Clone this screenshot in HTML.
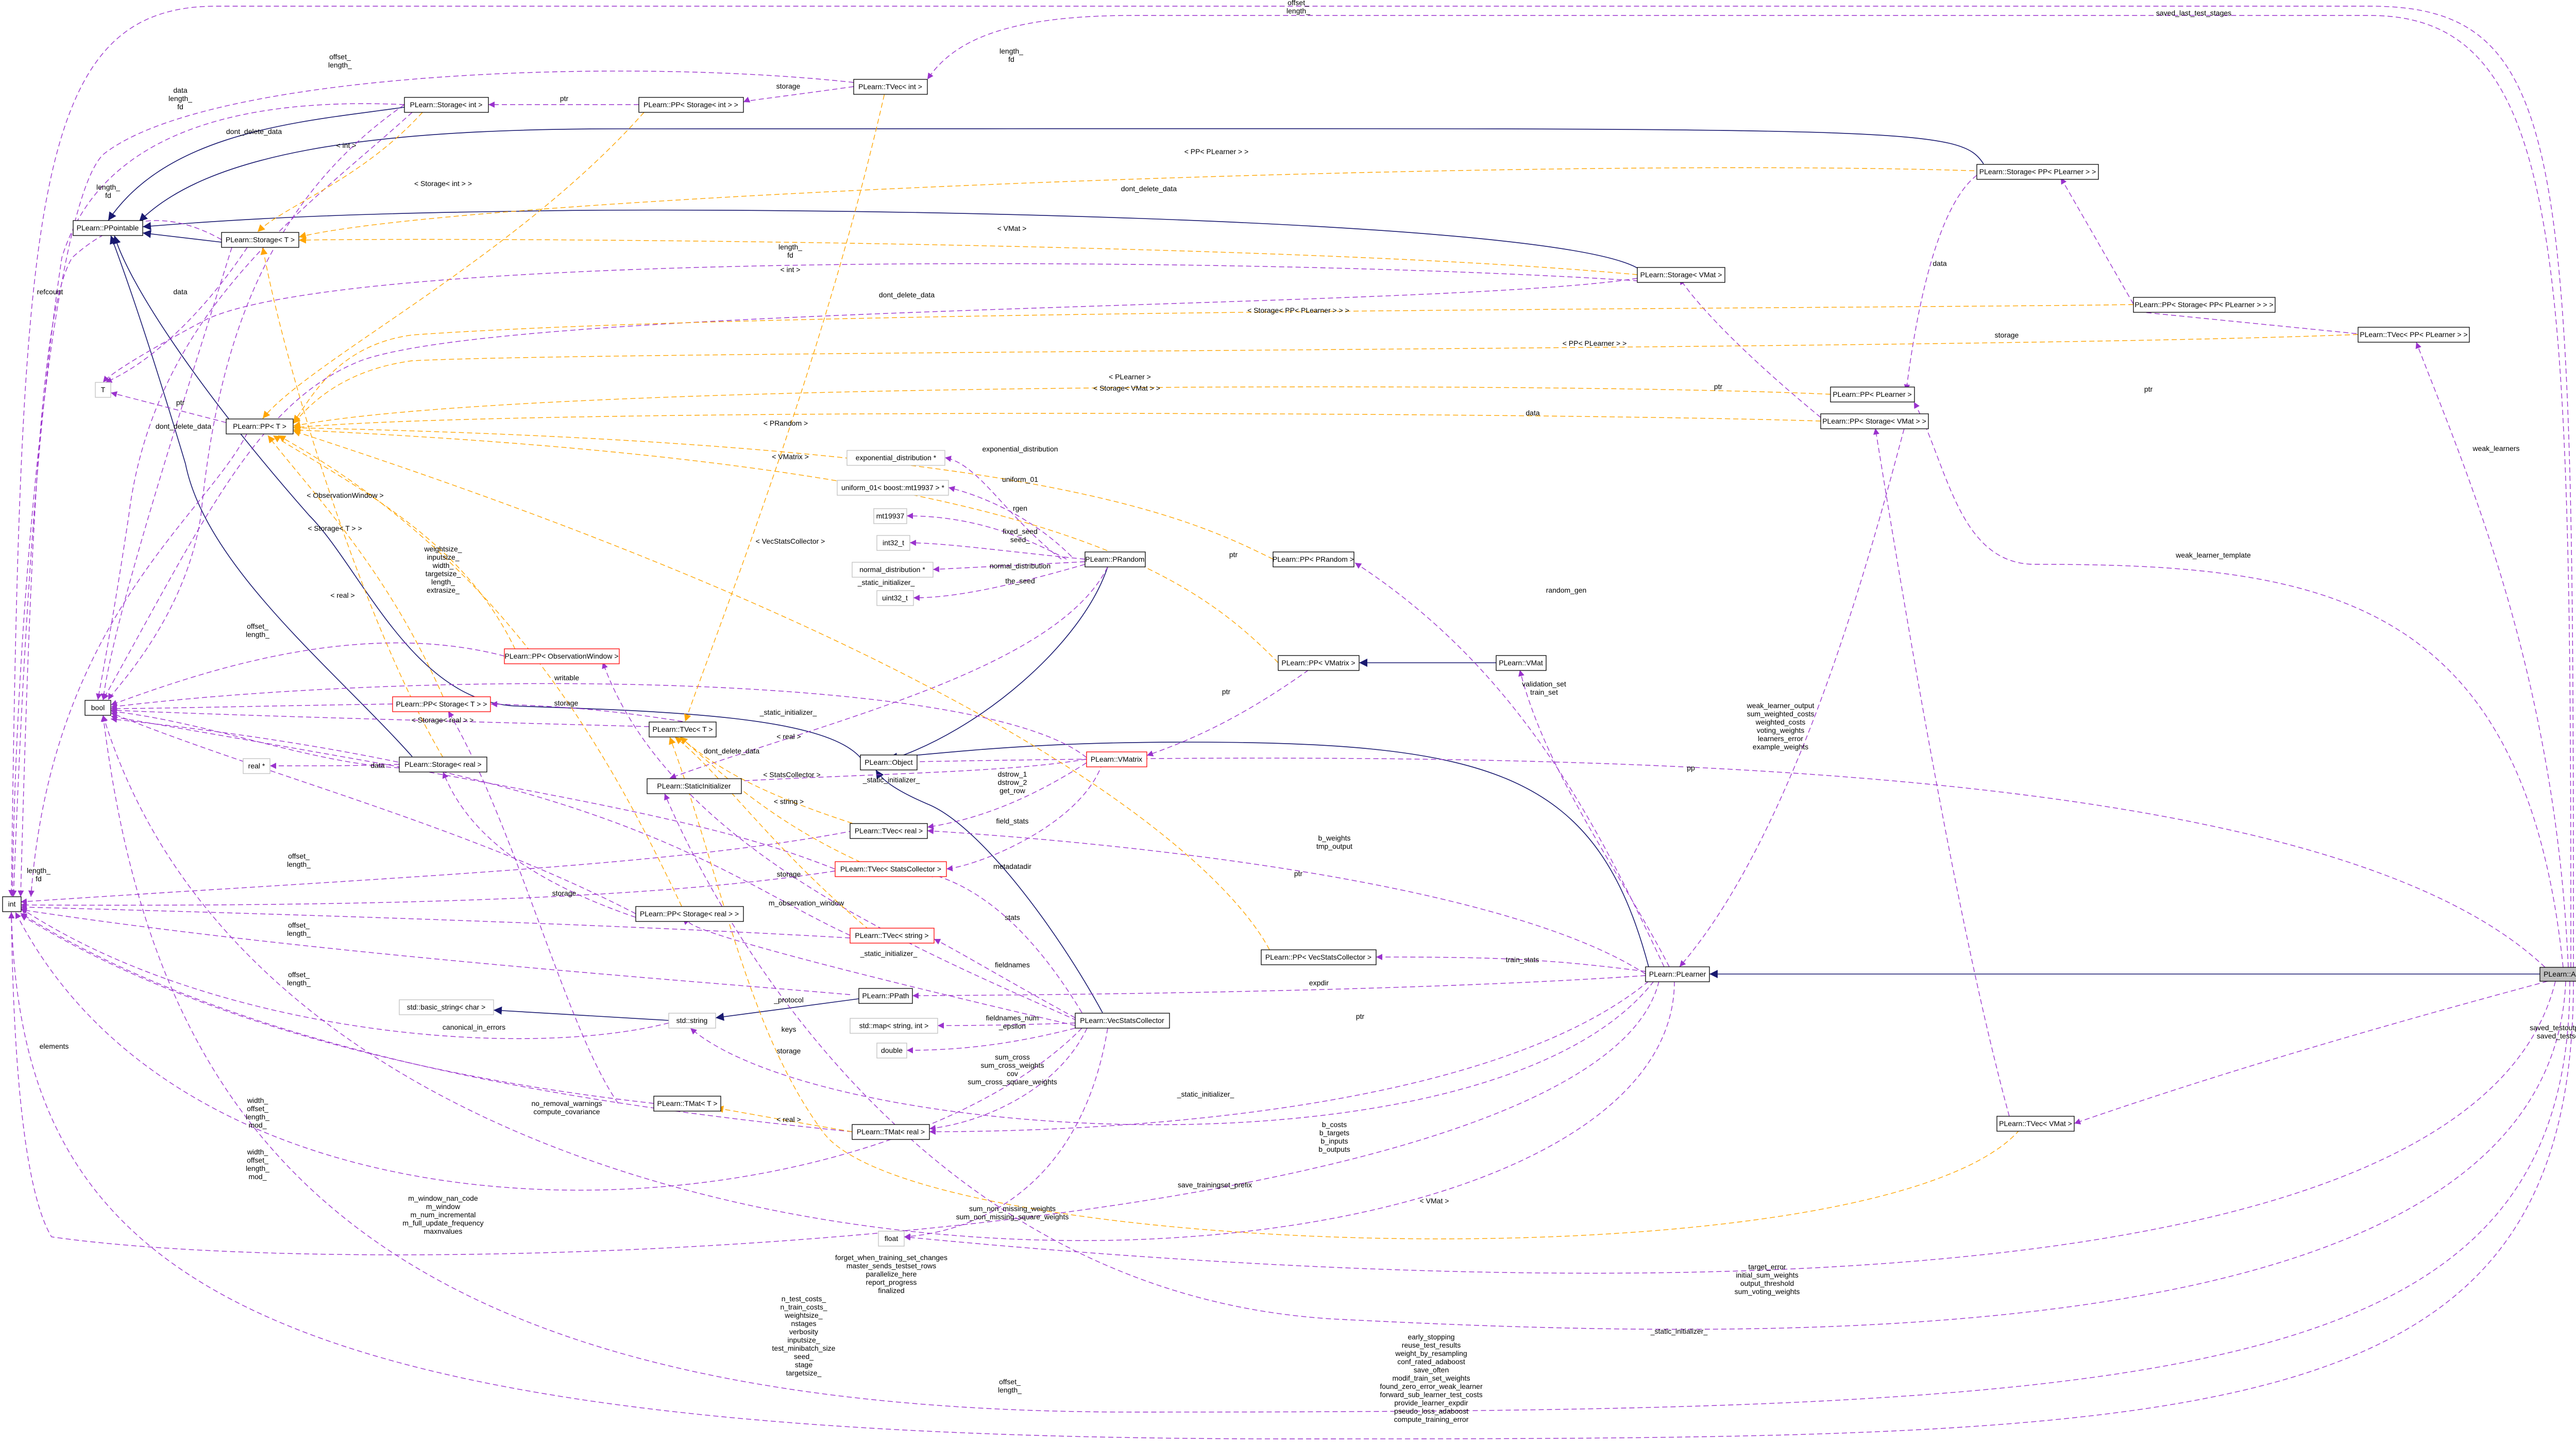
<!DOCTYPE html>
<html><head><meta charset="utf-8"><style>
html,body{margin:0;padding:0;background:#fff}
svg{display:block}
text{font-family:"Liberation Sans",sans-serif;font-size:14px;fill:#000}
.n rect{fill:#fff;stroke:#000;stroke-width:1.3}
.g rect{stroke:#bfbfbf}
.r rect{stroke:#f00}
.p{fill:none;stroke:#9a32cd;stroke-width:1.4;stroke-dasharray:10,6}
.o{fill:none;stroke:#ffa500;stroke-width:1.4;stroke-dasharray:10,6}
.s{fill:none;stroke:#191970;stroke-width:1.6}
</style></head><body>
<svg width="5064" height="2800" viewBox="0 0 5064 2800" xmlns="http://www.w3.org/2000/svg">
<defs>
<marker id="mp" viewBox="0 0 10 10" refX="10" refY="5" markerWidth="12" markerHeight="12" markerUnits="userSpaceOnUse" orient="auto"><path d="M0,0L10,5L0,10z" fill="#9a32cd"/></marker>
<marker id="mo" viewBox="0 0 10 10" refX="10" refY="5" markerWidth="14" markerHeight="14" markerUnits="userSpaceOnUse" orient="auto"><path d="M0,0L10,5L0,10z" fill="#ffa500"/></marker>
<marker id="ms" viewBox="0 0 10 10" refX="10" refY="5" markerWidth="16" markerHeight="16" markerUnits="userSpaceOnUse" orient="auto"><path d="M0,0L10,5L0,10z" fill="#191970"/></marker>
</defs>

<!-- solid inheritance -->
<g class="s" marker-end="url(#ms)">
<path d="M785,208 C600,235 330,250 210,428"/>
<path d="M3850,318 C3800,240 3700,250 1200,250 C700,250 400,300 270,430"/>
<path d="M3178,520 C3000,420 1500,400 1000,410 C600,415 400,430 277,440"/>
<path d="M430,470 L277,452"/>
<path d="M800,1468 C650,1300 400,1100 360,900 C300,700 250,550 215,457"/>
<path d="M1670,1470 C1600,1390 1300,1380 1000,1370 C800,1360 700,1100 600,1000 C380,750 250,550 222,457"/>
<path d="M2150,1100 C2100,1250 1900,1420 1725,1475"/>
<path d="M3200,1876 C3100,1500 2900,1440 2300,1440 C2000,1440 1850,1460 1725,1470"/>
<path d="M2140,1965 C2050,1800 1900,1600 1800,1560 C1730,1530 1710,1510 1700,1494"/>
<path d="M2904,1286 L2638,1286"/>
<path d="M4930,1890 L3318,1890"/>
<path d="M1667,1938 L1389,1975"/>
<path d="M1298,1980 L958,1960"/>
</g>

<!-- purple usage edges -->
<g class="p" marker-end="url(#mp)">
<path d="M4995,1877 C4995,300 4990,12 4600,12 L420,12 C60,12 40,400 22,1739"/>
<path d="M4990,1877 C4990,500 4980,30 4600,30 L2200,30 C1950,30 1850,80 1800,154"/>
<path d="M4985,1877 C4960,1300 4780,900 4690,664"/>
<path d="M4975,1877 C4900,1150 4500,1095 3950,1095 C3800,1095 3780,900 3715,780"/>
<path d="M4940,1877 C4500,1460 3000,1455 1725,1479"/>
<path d="M4945,1904 Q4400,2050 4026,2180"/>
<path d="M4960,1904 C4800,2560 3000,2520 1755,2400"/>
<path d="M4980,1904 C4950,2650 3400,2600 2600,2560 C1800,2520 1400,1800 1290,1540"/>
<path d="M4988,1904 C4988,2700 4200,2740 2200,2740 C700,2740 300,2200 200,1388"/>
<path d="M4995,1904 C4995,2790 4300,2792 2500,2792 C500,2792 40,2500 22,1770"/>
<path d="M4590,649 L4160,606 M4141,591"/>
<path d="M4141,590 L4000,345"/>
<path d="M3837,340 C3760,400 3720,600 3700,758"/>
<path d="M3534,810 C3400,700 3300,600 3260,540"/>
<path d="M3700,817 C3650,1000 3500,1600 3260,1876"/>
<path d="M3900,2166 C3800,1800 3700,1200 3640,831"/>
<path d="M3230,1876 C3100,1600 2950,1300 2630,1092"/>
<path d="M3240,1876 C3150,1700 3000,1500 2950,1300"/>
<path d="M3194,1890 C2900,1700 2100,1630 1800,1612"/>
<path d="M3194,1885 C3000,1860 2900,1857 2671,1857"/>
<path d="M3194,1893 C2800,1920 2200,1930 1771,1932"/>
<path d="M3200,1904 C2900,2150 2200,2196 1804,2196"/>
<path d="M3210,1904 C2900,2300 1600,2220 1340,1995"/>
<path d="M3220,1904 C3100,2400 800,2500 100,2400 C40,2300 25,2000 22,1770"/>
<path d="M3250,1904 C3250,2600 600,2700 200,1388"/>
<path d="M3178,540 C2800,600 1000,590 700,700 C500,780 400,1000 200,1358"/>
<path d="M3180,545 C2500,500 700,480 400,620 C250,700 210,730 200,742"/>
<path d="M1240,203 L948,203"/>
<path d="M1657,168 C1500,190 1450,195 1443,198"/>
<path d="M1657,160 C1200,110 400,140 200,300 C100,400 30,1200 24,1740"/>
<path d="M785,203 C500,190 200,240 120,500 C60,900 40,1400 26,1740"/>
<path d="M800,218 C600,400 300,600 250,1000 C220,1200 200,1300 190,1358"/>
<path d="M785,203 C500,400 420,700 390,1000 C360,1200 220,1340 210,1358"/>
<path d="M430,465 C350,420 250,400 140,500 C80,600 60,1000 40,1740"/>
<path d="M480,480 C400,600 300,700 205,742"/>
<path d="M450,480 C350,800 220,1200 200,1358"/>
<path d="M439,820 L215,762"/>
<path d="M480,840 C400,1000 100,1200 60,1740"/>
<path d="M2060,1085 C1950,1000 1900,900 1834,888"/>
<path d="M2080,1080 C2000,1000 1900,960 1841,946"/>
<path d="M2070,1085 C1950,1020 1850,1001 1760,1001"/>
<path d="M2106,1085 C1950,1070 1850,1055 1766,1053"/>
<path d="M2106,1090 L1811,1105"/>
<path d="M2106,1095 C1950,1140 1850,1160 1773,1160"/>
<path d="M2150,1100 C2050,1300 1600,1400 1300,1510"/>
<path d="M2109,1470 C1900,1300 800,1300 215,1372"/>
<path d="M2109,1473 C1950,1500 1700,1500 1350,1520"/>
<path d="M2540,1300 C2400,1400 2300,1440 2226,1466"/>
<path d="M2109,1480 C2000,1550 1900,1590 1800,1605"/>
<path d="M2140,1480 C2100,1600 1900,1680 1837,1686"/>
<path d="M2100,1965 C2000,1800 1900,1720 1800,1694"/>
<path d="M2087,1975 C1950,1900 1850,1840 1813,1822"/>
<path d="M2087,1985 C1950,1990 1850,1990 1820,1990"/>
<path d="M2087,1995 C1950,2030 1850,2038 1760,2038"/>
<path d="M2110,1995 C2050,2120 1900,2180 1804,2190"/>
<path d="M2150,1995 C2100,2300 1900,2390 1755,2400"/>
<path d="M2087,1990 C1700,1900 1300,1800 1339,1785"/>
<path d="M2090,1980 C1800,1850 1300,1650 1170,1285"/>
<path d="M2100,1995 C1700,2400 400,2500 30,1770"/>
<path d="M1657,1612 C1300,1680 800,1700 40,1750"/>
<path d="M1621,1690 C1300,1740 800,1760 40,1756"/>
<path d="M1650,1820 C1300,1800 800,1780 40,1760"/>
<path d="M1650,1930 C1300,1900 600,1850 40,1765"/>
<path d="M1654,2196 C1200,2150 500,2060 40,1772"/>
<path d="M1269,2141 C900,2100 400,2000 40,1775"/>
<path d="M1234,1773 C900,1600 500,1500 215,1383"/>
<path d="M1234,1780 C1000,1700 900,1600 860,1498"/>
<path d="M1325,1400 C1200,1380 1100,1370 953,1366"/>
<path d="M1260,1410 C900,1400 500,1390 215,1378"/>
<path d="M1298,1985 C1000,2060 400,2000 40,1762"/>
<path d="M775,1483 C700,1486 650,1486 524,1486"/>
<path d="M775,1490 C600,1480 400,1400 215,1380"/>
<path d="M1200,2141 C1100,2000 1000,1600 870,1380"/>
<path d="M762,1366 C500,1370 300,1375 215,1375"/>
<path d="M979,1273 C700,1200 400,1300 215,1368"/>
<path d="M1620,1686 C1400,1600 1200,1560 215,1390"/>
<path d="M1650,1815 C1400,1700 1200,1500 215,1395"/>
</g>

<!-- orange template edges -->
<g class="o" marker-end="url(#mo)">
<path d="M4141,591 C3500,600 1500,600 800,650 C650,670 600,780 569,820"/>
<path d="M4577,649 C3800,680 1200,680 800,700 C650,720 590,800 569,822"/>
<path d="M3553,765 C3000,740 1000,740 569,827"/>
<path d="M3534,817 C3000,800 1000,790 569,830"/>
<path d="M2471,1085 C2300,1000 2000,860 569,830"/>
<path d="M2481,1286 C2300,1100 2000,900 569,834"/>
<path d="M2471,1857 C2400,1700 2000,1300 569,836"/>
<path d="M1000,1260 C900,1050 700,950 530,845"/>
<path d="M860,1352 C750,1100 600,950 520,845"/>
<path d="M1250,218 C1000,500 600,700 510,812"/>
<path d="M1330,1773 C1200,1500 1000,1100 540,845"/>
<path d="M3880,333 C3000,300 900,380 580,460"/>
<path d="M820,218 C700,350 550,400 500,450"/>
<path d="M3178,533 C2500,470 900,460 580,466"/>
<path d="M860,1470 C700,1200 550,700 510,480"/>
<path d="M1720,168 C1600,700 1400,1200 1330,1400"/>
<path d="M1700,1612 C1500,1550 1400,1500 1320,1430"/>
<path d="M1700,1686 C1500,1600 1400,1500 1320,1430"/>
<path d="M1700,1815 C1500,1650 1400,1500 1310,1430"/>
<path d="M3930,2180 C3700,2500 1800,2450 1600,2200 C1450,2000 1400,1700 1300,1430"/>
<path d="M1654,2196 C1500,2170 1450,2160 1390,2150"/>
</g>

<!-- nodes -->
<g class="n">
<rect x="1657" y="154" width="143" height="29"/><text x="1728" y="173" text-anchor="middle">PLearn::TVec&lt; int &gt;</text>
<rect x="785" y="189" width="163" height="29"/><text x="866" y="208" text-anchor="middle">PLearn::Storage&lt; int &gt;</text>
<rect x="1240" y="189" width="203" height="29"/><text x="1341" y="208" text-anchor="middle">PLearn::PP&lt; Storage&lt; int &gt; &gt;</text>
<rect x="142" y="428" width="135" height="29"/><text x="209" y="447" text-anchor="middle">PLearn::PPointable</text>
<rect x="430" y="451" width="150" height="29"/><text x="505" y="470" text-anchor="middle">PLearn::Storage&lt; T &gt;</text>
<rect x="3837" y="319" width="236" height="29"/><text x="3955" y="338" text-anchor="middle">PLearn::Storage&lt; PP&lt; PLearner &gt; &gt;</text>
<rect x="3178" y="519" width="170" height="29"/><text x="3263" y="538" text-anchor="middle">PLearn::Storage&lt; VMat &gt;</text>
<rect x="4141" y="577" width="275" height="29"/><text x="4278" y="596" text-anchor="middle">PLearn::PP&lt; Storage&lt; PP&lt; PLearner &gt; &gt; &gt;</text>
<rect x="4577" y="635" width="216" height="29"/><text x="4685" y="654" text-anchor="middle">PLearn::TVec&lt; PP&lt; PLearner &gt; &gt;</text>
<rect x="439" y="813" width="130" height="29"/><text x="504" y="832" text-anchor="middle">PLearn::PP&lt; T &gt;</text>
<rect x="3553" y="751" width="163" height="29"/><text x="3634" y="770" text-anchor="middle">PLearn::PP&lt; PLearner &gt;</text>
<rect x="3534" y="803" width="209" height="29"/><text x="3638" y="822" text-anchor="middle">PLearn::PP&lt; Storage&lt; VMat &gt; &gt;</text>
<rect x="2106" y="1071" width="117" height="29"/><text x="2164" y="1090" text-anchor="middle">PLearn::PRandom</text>
<rect x="2471" y="1071" width="157" height="29"/><text x="2549" y="1090" text-anchor="middle">PLearn::PP&lt; PRandom &gt;</text>
<rect x="2481" y="1272" width="157" height="29"/><text x="2559" y="1291" text-anchor="middle">PLearn::PP&lt; VMatrix &gt;</text>
<rect x="2904" y="1272" width="97" height="29"/><text x="2952" y="1291" text-anchor="middle">PLearn::VMat</text>
<rect x="165" y="1359" width="50" height="29"/><text x="190" y="1378" text-anchor="middle">bool</text>
<rect x="1260" y="1401" width="130" height="29"/><text x="1325" y="1420" text-anchor="middle">PLearn::TVec&lt; T &gt;</text>
<rect x="1670" y="1465" width="110" height="29"/><text x="1725" y="1484" text-anchor="middle">PLearn::Object</text>
<rect x="775" y="1469" width="170" height="29"/><text x="860" y="1488" text-anchor="middle">PLearn::Storage&lt; real &gt;</text>
<rect x="1256" y="1511" width="183" height="29"/><text x="1347" y="1530" text-anchor="middle">PLearn::StaticInitializer</text>
<rect x="1650" y="1598" width="150" height="29"/><text x="1725" y="1617" text-anchor="middle">PLearn::TVec&lt; real &gt;</text>
<rect x="5" y="1740" width="36" height="29"/><text x="23" y="1759" text-anchor="middle">int</text>
<rect x="1234" y="1759" width="209" height="29"/><text x="1338" y="1778" text-anchor="middle">PLearn::PP&lt; Storage&lt; real &gt; &gt;</text>
<rect x="2448" y="1843" width="223" height="29"/><text x="2559" y="1862" text-anchor="middle">PLearn::PP&lt; VecStatsCollector &gt;</text>
<rect x="3194" y="1876" width="124" height="29"/><text x="3256" y="1895" text-anchor="middle">PLearn::PLearner</text>
<rect x="4930" y="1877" width="129" height="27" style="fill:#bfbfbf"/><text x="4994" y="1895" text-anchor="middle">PLearn::AdaBoost</text>
<rect x="1667" y="1918" width="104" height="29"/><text x="1719" y="1937" text-anchor="middle">PLearn::PPath</text>
<rect x="2087" y="1966" width="183" height="29"/><text x="2178" y="1985" text-anchor="middle">PLearn::VecStatsCollector</text>
<rect x="1269" y="2127" width="130" height="29"/><text x="1334" y="2146" text-anchor="middle">PLearn::TMat&lt; T &gt;</text>
<rect x="3876" y="2166" width="150" height="29"/><text x="3951" y="2185" text-anchor="middle">PLearn::TVec&lt; VMat &gt;</text>
<rect x="1654" y="2182" width="150" height="29"/><text x="1729" y="2201" text-anchor="middle">PLearn::TMat&lt; real &gt;</text>
</g>
<g class="n r">
<rect x="979" y="1259" width="223" height="29"/><text x="1090" y="1278" text-anchor="middle">PLearn::PP&lt; ObservationWindow &gt;</text>
<rect x="762" y="1352" width="190" height="29"/><text x="857" y="1371" text-anchor="middle">PLearn::PP&lt; Storage&lt; T &gt; &gt;</text>
<rect x="2109" y="1459" width="117" height="29"/><text x="2167" y="1478" text-anchor="middle">PLearn::VMatrix</text>
<rect x="1621" y="1672" width="216" height="29"/><text x="1729" y="1691" text-anchor="middle">PLearn::TVec&lt; StatsCollector &gt;</text>
<rect x="1650" y="1801" width="163" height="29"/><text x="1731" y="1820" text-anchor="middle">PLearn::TVec&lt; string &gt;</text>
</g>
<g class="n g">
<rect x="185" y="742" width="30" height="29"/><text x="200" y="761" text-anchor="middle">T</text>
<rect x="1644" y="874" width="190" height="29"/><text x="1739" y="893" text-anchor="middle">exponential_distribution *</text>
<rect x="1625" y="932" width="216" height="29"/><text x="1733" y="951" text-anchor="middle">uniform_01&lt; boost::mt19937 &gt; *</text>
<rect x="1696" y="987" width="64" height="29"/><text x="1728" y="1006" text-anchor="middle">mt19937</text>
<rect x="1702" y="1039" width="64" height="29"/><text x="1734" y="1058" text-anchor="middle">int32_t</text>
<rect x="1654" y="1091" width="157" height="29"/><text x="1732" y="1110" text-anchor="middle">normal_distribution *</text>
<rect x="1702" y="1146" width="71" height="29"/><text x="1737" y="1165" text-anchor="middle">uint32_t</text>
<rect x="472" y="1472" width="52" height="29"/><text x="498" y="1491" text-anchor="middle">real *</text>
<rect x="775" y="1940" width="183" height="29"/><text x="866" y="1959" text-anchor="middle">std::basic_string&lt; char &gt;</text>
<rect x="1298" y="1966" width="91" height="29"/><text x="1343" y="1985" text-anchor="middle">std::string</text>
<rect x="1650" y="1976" width="170" height="29"/><text x="1735" y="1995" text-anchor="middle">std::map&lt; string, int &gt;</text>
<rect x="1702" y="2024" width="58" height="29"/><text x="1731" y="2043" text-anchor="middle">double</text>
<rect x="1705" y="2389" width="50" height="29"/><text x="1730" y="2408" text-anchor="middle">float</text>
</g>

<!-- edge labels -->
<g text-anchor="middle">
<text x="2520" y="10">offset_</text><text x="2520" y="26">length_</text>
<text x="4258" y="30">saved_last_test_stages</text>
<text x="1963" y="104">length_</text><text x="1963" y="120">fd</text>
<text x="660" y="115">offset_</text><text x="660" y="131">length_</text>
<text x="350" y="180">data</text><text x="350" y="196">length_</text><text x="350" y="212">fd</text>
<text x="1095" y="196">ptr</text><text x="1530" y="172">storage</text>
<text x="493" y="260">dont_delete_data</text><text x="672" y="287">&lt; int &gt;</text>
<text x="2361" y="299">&lt; PP&lt; PLearner &gt; &gt;</text>
<text x="210" y="368">length_</text><text x="210" y="384">fd</text>
<text x="860" y="361">&lt; Storage&lt; int &gt; &gt;</text>
<text x="2230" y="371">dont_delete_data</text>
<text x="1964" y="448">&lt; VMat &gt;</text>
<text x="1534" y="484">length_</text><text x="1534" y="500">fd</text><text x="1534" y="528">&lt; int &gt;</text>
<text x="1760" y="577">dont_delete_data</text>
<text x="2520" y="607">&lt; Storage&lt; PP&lt; PLearner &gt; &gt; &gt;</text>
<text x="3095" y="671">&lt; PP&lt; PLearner &gt; &gt;</text>
<text x="3895" y="655">storage</text>
<text x="3765" y="516">data</text>
<text x="97" y="571">refcount</text>
<text x="350" y="571">data</text>
<text x="2193" y="736">&lt; PLearner &gt;</text>
<text x="2187" y="758">&lt; Storage&lt; VMat &gt; &gt;</text>
<text x="4170" y="760">ptr</text>
<text x="3335" y="755">ptr</text>
<text x="350" y="786">ptr</text>
<text x="356" y="832">dont_delete_data</text>
<text x="1525" y="826">&lt; PRandom &gt;</text>
<text x="2975" y="806">data</text>
<text x="1534" y="891">&lt; VMatrix &gt;</text>
<text x="1980" y="876">exponential_distribution</text>
<text x="1980" y="935">uniform_01</text>
<text x="1980" y="991">rgen</text>
<text x="1980" y="1036">fixed_seed</text><text x="1980" y="1052">seed_</text>
<text x="1980" y="1103">normal_distribution</text>
<text x="1980" y="1132">the_seed</text>
<text x="2394" y="1081">ptr</text>
<text x="670" y="966">&lt; ObservationWindow &gt;</text>
<text x="650" y="1030">&lt; Storage&lt; T &gt; &gt;</text>
<text x="1534" y="1055">&lt; VecStatsCollector &gt;</text>
<text x="3040" y="1150">random_gen</text>
<text x="4296" y="1082">weak_learner_template</text>
<text x="4845" y="875">weak_learners</text>
<text x="860" y="1070">weightsize_</text><text x="860" y="1086">inputsize_</text><text x="860" y="1102">width_</text><text x="860" y="1118">targetsize_</text><text x="860" y="1134">length_</text><text x="860" y="1150">extrasize_</text>
<text x="665" y="1160">&lt; real &gt;</text>
<text x="1720" y="1135">_static_initializer_</text>
<text x="500" y="1220">offset_</text><text x="500" y="1236">length_</text>
<text x="1100" y="1320">writable</text>
<text x="2997" y="1332">validation_set</text><text x="2997" y="1348">train_set</text>
<text x="2380" y="1347">ptr</text>
<text x="1099" y="1369">storage</text>
<text x="1530" y="1387">_static_initializer_</text>
<text x="859" y="1402">&lt; Storage&lt; real &gt; &gt;</text>
<text x="1531" y="1434">&lt; real &gt;</text>
<text x="3456" y="1374">weak_learner_output</text><text x="3456" y="1390">sum_weighted_costs</text><text x="3456" y="1406">weighted_costs</text><text x="3456" y="1422">voting_weights</text><text x="3456" y="1438">learners_error</text><text x="3456" y="1454">example_weights</text>
<text x="3282" y="1495">pp</text>
<text x="1420" y="1462">dont_delete_data</text>
<text x="733" y="1490">data</text>
<text x="1537" y="1508">&lt; StatsCollector &gt;</text>
<text x="1730" y="1518">_static_initializer_</text>
<text x="1531" y="1560">&lt; string &gt;</text>
<text x="1965" y="1507">dstrow_1</text><text x="1965" y="1523">dstrow_2</text><text x="1965" y="1539">get_row</text>
<text x="1965" y="1598">field_stats</text>
<text x="2590" y="1631">b_weights</text><text x="2590" y="1647">tmp_output</text>
<text x="1965" y="1686">metadatadir</text>
<text x="1531" y="1701">storage</text>
<text x="1095" y="1738">storage</text>
<text x="1565" y="1757">m_observation_window</text>
<text x="75" y="1694">length_</text><text x="75" y="1710">fd</text>
<text x="580" y="1666">offset_</text><text x="580" y="1682">length_</text>
<text x="580" y="1800">offset_</text><text x="580" y="1816">length_</text>
<text x="580" y="1896">offset_</text><text x="580" y="1912">length_</text>
<text x="1965" y="1785">stats</text>
<text x="1725" y="1855">_static_initializer_</text>
<text x="2955" y="1867">train_stats</text>
<text x="1965" y="1877">fieldnames</text>
<text x="2560" y="1912">expdir</text>
<text x="2520" y="1700">ptr</text>
<text x="2640" y="1977">ptr</text>
<text x="1531" y="1945">_protocol</text>
<text x="1965" y="1980">fieldnames_num</text><text x="1965" y="1996">_epsilon</text>
<text x="920" y="1998">canonical_in_errors</text>
<text x="1531" y="2002">keys</text><text x="1531" y="2044">storage</text>
<text x="105" y="2035">elements</text>
<text x="1965" y="2056">sum_cross</text><text x="1965" y="2072">sum_cross_weights</text><text x="1965" y="2088">cov</text><text x="1965" y="2104">sum_cross_square_weights</text>
<text x="500" y="2140">width_</text><text x="500" y="2156">offset_</text><text x="500" y="2172">length_</text><text x="500" y="2188">mod_</text>
<text x="1100" y="2146">no_removal_warnings</text><text x="1100" y="2162">compute_covariance</text>
<text x="2340" y="2128">_static_initializer_</text>
<text x="1531" y="2177">&lt; real &gt;</text>
<text x="2590" y="2187">b_costs</text><text x="2590" y="2203">b_targets</text><text x="2590" y="2219">b_inputs</text><text x="2590" y="2235">b_outputs</text>
<text x="500" y="2240">width_</text><text x="500" y="2256">offset_</text><text x="500" y="2272">length_</text><text x="500" y="2288">mod_</text>
<text x="2358" y="2304">save_trainingset_prefix</text>
<text x="2784" y="2335">&lt; VMat &gt;</text>
<text x="860" y="2330">m_window_nan_code</text><text x="860" y="2346">m_window</text><text x="860" y="2362">m_num_incremental</text><text x="860" y="2378">m_full_update_frequency</text><text x="860" y="2394">maxnvalues</text>
<text x="1965" y="2350">sum_non_missing_weights</text><text x="1965" y="2366">sum_non_missing_square_weights</text>
<text x="4967" y="1999">saved_testoutputs</text><text x="4967" y="2015">saved_testset</text>
<text x="1730" y="2445">forget_when_training_set_changes</text><text x="1730" y="2461">master_sends_testset_rows</text><text x="1730" y="2477">parallelize_here</text><text x="1730" y="2493">report_progress</text><text x="1730" y="2509">finalized</text>
<text x="3430" y="2463">target_error</text><text x="3430" y="2479">initial_sum_weights</text><text x="3430" y="2495">output_threshold</text><text x="3430" y="2511">sum_voting_weights</text>
<text x="1560" y="2525">n_test_costs_</text><text x="1560" y="2541">n_train_costs_</text><text x="1560" y="2557">weightsize_</text><text x="1560" y="2573">nstages</text><text x="1560" y="2589">verbosity</text><text x="1560" y="2605">inputsize_</text><text x="1560" y="2621">test_minibatch_size</text><text x="1560" y="2637">seed_</text><text x="1560" y="2653">stage</text><text x="1560" y="2669">targetsize_</text>
<text x="3259" y="2588">_static_initializer_</text>
<text x="2778" y="2599">early_stopping</text><text x="2778" y="2615">reuse_test_results</text><text x="2778" y="2631">weight_by_resampling</text><text x="2778" y="2647">conf_rated_adaboost</text><text x="2778" y="2663">save_often</text><text x="2778" y="2679">modif_train_set_weights</text><text x="2778" y="2695">found_zero_error_weak_learner</text><text x="2778" y="2711">forward_sub_learner_test_costs</text><text x="2778" y="2727">provide_learner_expdir</text><text x="2778" y="2743">pseudo_loss_adaboost</text><text x="2778" y="2759">compute_training_error</text>
<text x="1960" y="2686">offset_</text><text x="1960" y="2702">length_</text>
</g>
</svg>
</body></html>
